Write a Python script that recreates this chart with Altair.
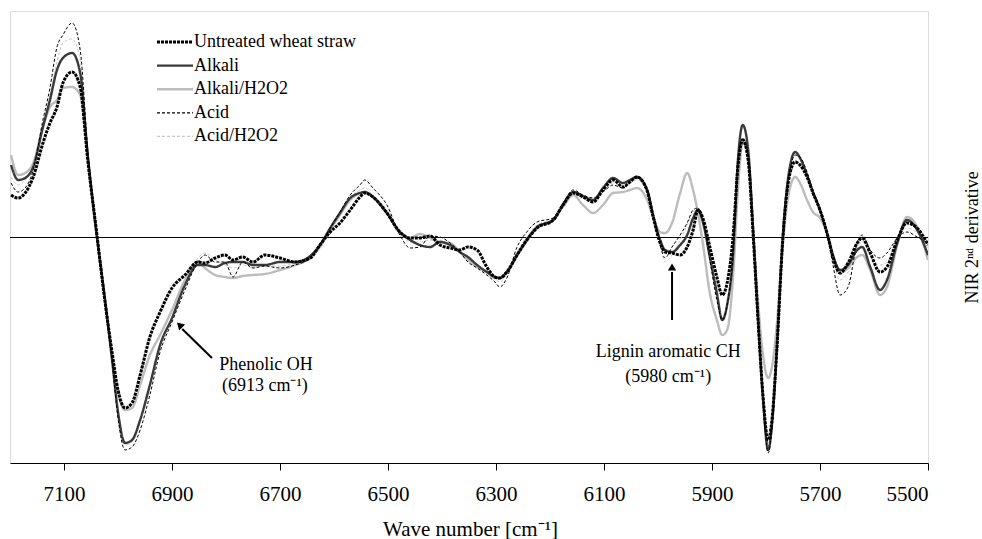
import altair as alt
import pandas as pd

# Wave numbers (cm-1)
wavenumber = [7198, 7185, 7172, 7157, 7139, 7126, 7113, 7102, 7085, 7070,
              7056, 7039, 7024, 7011, 7000, 6987, 6974, 6959, 6941, 6922,
              6900, 6876, 6852, 6839, 6820, 6802, 6787, 6769, 6750, 6728,
              6700, 6672, 6644, 6626, 6607, 6589, 6570, 6552, 6543, 6528,
              6502, 6478, 6459, 6441, 6422, 6404, 6385, 6367, 6352, 6335,
              6317, 6302, 6293, 6280, 6261, 6243, 6224, 6194, 6176, 6157,
              6139, 6120, 6102, 6083, 6065, 6052, 6039, 6020, 6009, 5996,
              5987, 5974, 5959, 5946, 5935, 5926, 5917, 5904, 5891, 5881,
              5872, 5861, 5852, 5843, 5833, 5824, 5815, 5806, 5796, 5789,
              5780, 5769, 5759, 5746, 5737, 5724, 5713, 5700, 5685, 5676,
              5663, 5648, 5631, 5622, 5607, 5589, 5576, 5557, 5539, 5520,
              5500]

# NIR 2nd derivative (arbitrary units)
untreated = [42, 39, 44, 60, 94, 114, 130, 154, 165, 150,
             77, 2, -65, -115, -153, -171, -166, -138, -100, -75,
             -51, -38, -25, -26, -21, -18, -23, -20, -25, -18,
             -21, -25, -21, -8, 5, 14, 27, 40, 44, 40,
             24, 5, -1, -1, 1, -8, -11, -13, -10, -13,
             -30, -40, -41, -35, -18, -3, 9, 17, 32, 44,
             40, 35, 47, 57, 50, 55, 60, 46, 20, -6,
             -15, -16, -18, -10, 7, 27, 19, -10, -40, -58,
             -46, 0, 70, 97, 77, 4, -80, -156, -203, -183,
             -113, -3, 54, 75, 72, 60, 44, 27, 0, -20,
             -36, -26, -6, -1, -16, -35, -30, -3, 14, 9,
             -8]
alkali = [72, 57, 59, 70, 110, 137, 167, 179, 184, 164,
          82, 0, -63, -123, -175, -206, -203, -183, -148, -108,
          -81, -48, -28, -28, -30, -26, -25, -25, -28, -28,
          -25, -25, -19, -8, 9, 24, 39, 44, 45, 40,
          24, 5, -3, -8, -10, -5, -8, -15, -20, -28,
          -35, -40, -41, -35, -18, -3, 10, 17, 32, 45,
          41, 37, 49, 59, 54, 57, 60, 47, 22, -3,
          -13, -15, -8, 2, 19, 27, 15, -20, -56, -83,
          -68, -18, 77, 112, 87, 9, -80, -158, -213, -188,
          -113, -1, 59, 85, 79, 62, 45, 27, 0, -18,
          -33, -28, -13, -10, -30, -53, -43, -6, 17, 7,
          -18]
alkali_h2o2 = [82, 62, 64, 74, 110, 130, 137, 149, 150, 142,
               77, 1, -63, -118, -155, -173, -171, -148, -118, -98,
               -73, -43, -25, -31, -38, -40, -41, -39, -38, -37,
               -33, -28, -21, -10, 7, 22, 37, 44, 45, 40,
               24, 4, -1, 3, -1, -5, -6, -15, -23, -30,
               -35, -41, -41, -36, -19, -4, 9, 17, 30, 42,
               32, 24, 32, 44, 45, 47, 49, 37, 20, 5,
               4, 14, 44, 64, 47, 24, -6, -56, -83, -98,
               -93, -40, 47, 95, 77, 7, -63, -116, -141, -130,
               -88, -8, 40, 60, 54, 37, 25, 19, 0, -20,
               -36, -31, -20, -18, -33, -58, -50, -8, 20, 10,
               -23]
acid = [54, 45, 49, 67, 117, 149, 190, 202, 214, 187,
        87, -1, -63, -125, -181, -213, -210, -193, -158, -115,
        -85, -53, -25, -18, -25, -25, -40, -25, -31, -29,
        -31, -28, -21, -8, 9, 25, 42, 52, 57, 49,
        32, 2, -11, -10, 1, 0, -6, -15, -25, -31,
        -38, -45, -50, -41, -10, 5, 15, 19, 34, 47,
        42, 39, 45, 52, 49, 55, 59, 47, 22, -8,
        -21, -10, 2, 14, 27, 29, 17, -23, -63, -83,
        -68, -18, 72, 99, 79, 5, -81, -160, -216, -193,
        -118, -8, 52, 82, 80, 65, 47, 27, -3, -28,
        -58, -50, -6, 2, -13, -21, -16, -1, 5, 0,
        -6]
acid_h2o2 = [60, 52, 57, 70, 112, 142, 175, 194, 198, 177,
             82, 0, -63, -123, -175, -208, -205, -183, -148, -108,
             -81, -48, -21, -16, -23, -28, -31, -28, -31, -29,
             -29, -26, -20, -8, 9, 24, 39, 47, 49, 42,
             27, 5, -5, -5, -3, -3, -8, -15, -21, -29,
             -35, -42, -45, -37, -15, 0, 12, 18, 32, 45,
             40, 37, 45, 54, 51, 54, 57, 45, 22, -8,
             -25, -18, -3, 12, 25, 27, 15, -21, -60, -81,
             -65, -18, 67, 97, 77, 4, -81, -158, -210, -188,
             -113, -5, 52, 77, 72, 60, 44, 27, 0, -21,
             -43, -35, -11, -5, -18, -28, -25, -3, 9, 4,
             -11]

series_names = ["Untreated wheat straw", "Alkali", "Alkali/H2O2", "Acid", "Acid/H2O2"]
series_colors = ["#000000", "#3a3a3a", "#bcbcbc", "#000000", "#c8c8c8"]
series_dashes = [[3, 1], [1, 0], [1, 0], [3, 2], [3, 2]]
series_widths = [3.0, 2.4, 2.4, 1.0, 1.0]

# draw order: light ones first, untreated on top
draw_order = [(2, alkali_h2o2), (4, acid_h2o2), (1, alkali), (3, acid), (0, untreated)]
rows = []
for idx, vals in draw_order:
    for w, v in zip(wavenumber, vals):
        rows.append({"wn": w, "val": v, "series": series_names[idx],
                     "lw": series_widths[idx], "order": idx})
df = pd.DataFrame(rows)

# annotations
ann_text = ["Lignin aromatic CH", "(5980 cm\u207b\u00b9)", "Phenolic OH", "(6913 cm\u207b\u00b9)"]
ann_wn = [5981, 5981, 6726, 6728]
ann_val = [-115, -140, -128, -149]
ann_df = pd.DataFrame({"wn": ann_wn, "val": ann_val, "text": ann_text})

arrow_id = ["lignin", "lignin", "phenolic", "phenolic"]
arrow_wn = [5974, 5974, 6826, 6881]
arrow_val = [-83, -35, -121, -92]
arrow_df = pd.DataFrame({"id": arrow_id, "wn": arrow_wn, "val": arrow_val})

head_wn = [5974, 6886]
head_val = [-30, -88]
head_angle = [0, 315]
head_df = pd.DataFrame({"wn": head_wn, "val": head_val, "angle": head_angle})

FONT = "Liberation Serif"

x_scale = alt.Scale(domain=[5500, 7200], reverse=True, nice=False, zero=False)
y_scale = alt.Scale(domain=[-226, 226], nice=False, zero=False)

legend_width_expr = (
    "datum.value == 'Untreated wheat straw' ? 3 : "
    "((datum.value == 'Acid' || datum.value == 'Acid/H2O2') ? 1.2 : 2.4)"
)
legend = alt.Legend(
    title=None, orient="none", legendX=156, legendY=22, padding=0,
    symbolType="M-3,0H3", symbolSize=144,
    symbolStrokeWidth=alt.ExprRef(expr=legend_width_expr),
    labelFont=FONT, labelFontSize=18, labelColor="#000000",
    labelOffset=10, rowPadding=5.6, labelLimit=400,
)

x_axis = alt.Axis(
    values=[7100, 6900, 6700, 6500, 6300, 6100, 5900, 5700, 5500],
    format="d", grid=False, domainColor="#000000", domainWidth=1,
    tickColor="#000000", tickSize=7, labelFont=FONT, labelFontSize=21,
    labelColor="#000000", labelPadding=13, title="Wave number [cm\u207b\u00b9]",
    titleFont=FONT, titleFontSize=21, titleFontWeight="normal", titleColor="#000000",
    titleX=460, titleY=72, titleAlign="center", titleBaseline="alphabetic",
)
y_axis = alt.Axis(
    orient="right", grid=False, domain=False, ticks=False, labels=False,
    title="NIR 2\u207f\u1d48 derivative", titleFont=FONT, titleFontSize=18,
    titleFontWeight="normal", titleColor="#000000", titleAngle=270,
    titleX=44, titleY=226, titleAlign="center", titleBaseline="middle",
)

lines = alt.Chart(df).mark_line(interpolate="monotone", clip=True).encode(
    x=alt.X("wn:Q", scale=x_scale, axis=x_axis),
    y=alt.Y("val:Q", scale=y_scale, axis=y_axis),
    color=alt.Color("series:N", scale=alt.Scale(domain=series_names, range=series_colors),
                    legend=legend),
    strokeDash=alt.StrokeDash("series:N", scale=alt.Scale(domain=series_names, range=series_dashes),
                              legend=legend),
    strokeWidth=alt.StrokeWidth("lw:Q", scale=None),
    order=alt.Order("order:Q"),
)

zero_line = alt.Chart(pd.DataFrame({"z": [0]})).mark_rule(
    color="#000000", strokeWidth=1, yOffset=0.5
).encode(y=alt.Y("z:Q", scale=y_scale))

arrows = alt.Chart(arrow_df).mark_line(color="#000000", strokeWidth=2).encode(
    x=alt.X("wn:Q", scale=x_scale), y=alt.Y("val:Q", scale=y_scale), detail="id:N"
)
heads = alt.Chart(head_df).mark_point(shape="triangle-up", filled=True, color="#000000",
                                      size=70, opacity=1).encode(
    x=alt.X("wn:Q", scale=x_scale), y=alt.Y("val:Q", scale=y_scale),
    angle=alt.Angle("angle:Q", scale=None),
)
texts = alt.Chart(ann_df).mark_text(font=FONT, fontSize=18, color="#000000",
                                    align="center", baseline="middle").encode(
    x=alt.X("wn:Q", scale=x_scale), y=alt.Y("val:Q", scale=y_scale), text="text:N"
)

chart = alt.layer(zero_line, lines, arrows, heads, texts).properties(
    width=918, height=452,
    padding={"left": 10, "top": 11, "right": 54, "bottom": 76},
    autosize=alt.AutoSizeParams(type="none"),
).configure_view(stroke="#a6a6a6", strokeWidth=1).configure(background="#ffffff")

chart.save("out.html", embed_options={"renderer": "svg", "actions": False})
